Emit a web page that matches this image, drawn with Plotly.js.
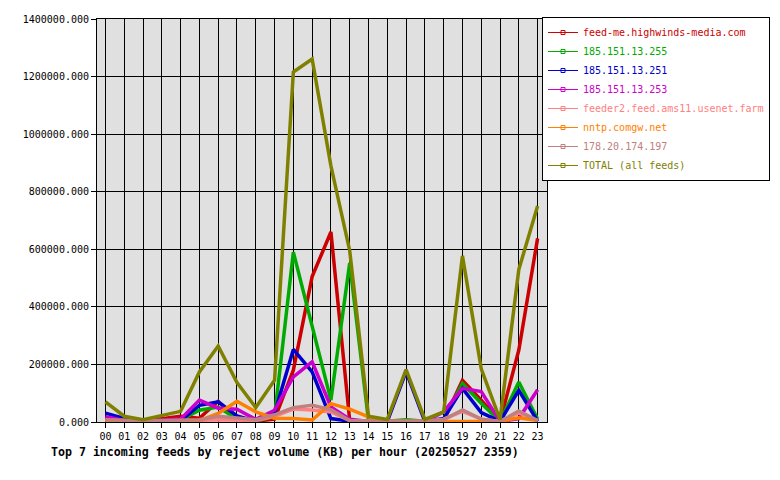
<!DOCTYPE html>
<html>
<head>
<meta charset="utf-8">
<script src="https://cdn.plot.ly/plotly-3.0.1.min.js"></script>
<style>html,body{margin:0;padding:0;background:#fff;}#chart{width:780px;height:480px;}</style>
</head>
<body>
<div id="chart"></div>
<script>
const hours = ['00','01','02','03','04','05','06','07','08','09','10','11','12','13','14','15','16','17','18','19','20','21','22','23'];

const feedNames = ['feed-me.highwinds-media.com','185.151.13.255','185.151.13.251','185.151.13.253','feeder2.feed.ams11.usenet.farm','nntp.comgw.net','178.20.174.197','TOTAL (all feeds)'];
const feedColors = ['#cc0000','#00aa00','#0000cc','#cc00cc','#ff8080','#ff8000','#c08080','#808000'];

const feedMe   = [15000, 5000, 3000, 12000, 20000, 13000, 72000, 12000, 3000, 10000, 180000, 505000, 660000, 5000, 2000, 2000, 2000, 2000, 5000, 145000, 76000, 2000, 250000, 638000];
const ip255    = [10000, 3000, 3000, 5000, 8000, 41000, 52000, 10000, 3000, 20000, 590000, 333000, 76000, 552000, 5000, 3000, 8000, 3000, 10000, 134000, 65000, 2000, 139000, 10000];
const ip251    = [31000, 12000, 3000, 3000, 5000, 58000, 70000, 21000, 3000, 30000, 252000, 174000, 12000, 3000, 2000, 2000, 175000, 2000, 12000, 117000, 33000, 2000, 110000, 3000];
const ip253    = [18000, 5000, 3000, 5000, 10000, 76000, 48000, 44000, 9000, 41000, 157000, 209000, 52000, 10000, 2000, 2000, 2000, 2000, 35000, 117000, 106000, 2000, 12000, 112000];
const feeder2  = [5000, 3000, 3000, 3000, 3000, 5000, 8000, 8000, 5000, 20000, 45000, 42000, 35000, 5000, 3000, 3000, 3000, 3000, 10000, 37000, 10000, 2000, 32000, 5000];
const comgw    = [2000, 2000, 2000, 2000, 3000, 5000, 30000, 72000, 35000, 13000, 12000, 7000, 64000, 45000, 18000, 3000, 2000, 2000, 2000, 3000, 3000, 2000, 15000, 5000];
const ip197    = [8000, 5000, 5000, 5000, 5000, 8000, 20000, 15000, 8000, 25000, 50000, 58000, 43000, 5000, 3000, 3000, 3000, 3000, 8000, 42000, 10000, 2000, 38000, 5000];
const total    = [70000, 20000, 8000, 23000, 37000, 174000, 264000, 137000, 50000, 145000, 1216000, 1261000, 890000, 595000, 20000, 9000, 182000, 9000, 35000, 577000, 185000, 8000, 530000, 750000];

const series = [feedMe, ip255, ip251, ip253, feeder2, comgw, ip197, total];
const yTicks = [0, 200000, 400000, 600000, 800000, 1000000, 1200000, 1400000];
const titleText = 'Top 7 incoming feeds by reject volume (KB) per hour (20250527 2359)';

const mono = 'DejaVu Sans Mono, monospace';
const traces = [];
series.forEach((vals, i) => {
  traces.push({
    x: hours, y: vals, type: 'scatter', mode: 'lines',
    line: {color: feedColors[i], width: 3.5},
    showlegend: false, hoverinfo: 'skip'
  });
});
// legend entries (thin line with small marker, like the original key)
feedNames.forEach((n, i) => {
  traces.push({
    x: [null], y: [null], type: 'scatter', mode: 'lines+markers',
    name: '<span style="color:' + feedColors[i] + '">' + n + '</span>',
    line: {color: feedColors[i], width: 1},
    marker: {color: feedColors[i], symbol: 'square-open', size: 4, line: {width: 1, color: feedColors[i]}},
    showlegend: true
  });
});

const layout = {
  width: 780, height: 480,
  margin: {l: 97, r: 232, t: 19, b: 58},
  paper_bgcolor: '#ffffff', plot_bgcolor: '#e0e0e0',
  font: {family: mono, size: 10, color: '#000'},
  showlegend: true,
  legend: {
    x: (770 - 97) / 451, xanchor: 'right', y: 1.005, yanchor: 'top',
    bordercolor: '#000', borderwidth: 1, bgcolor: '#fff',
    font: {family: mono, size: 10}, tracegroupgap: 0, itemclick: false
  },
  xaxis: {
    type: 'category', range: [-0.45, 23.5], fixedrange: true,
    showgrid: true, gridcolor: '#000', gridwidth: 1,
    showline: true, linecolor: '#000', linewidth: 1, mirror: true,
    ticks: 'outside', ticklen: 5, tickcolor: '#000', tickwidth: 1,
    tickfont: {family: mono, size: 10, color: '#000'}, zeroline: false
  },
  yaxis: {
    range: [0, 1400000], fixedrange: true,
    tickvals: yTicks, tickformat: '.3f',
    showgrid: true, gridcolor: '#000', gridwidth: 1,
    showline: true, linecolor: '#000', linewidth: 1, mirror: true,
    ticks: 'outside', ticklen: 5, tickcolor: '#000', tickwidth: 1,
    tickfont: {family: mono, size: 10, color: '#000'}, zeroline: false
  },
  annotations: [{
    text: '<b>' + titleText + '</b>', xref: 'paper', yref: 'paper',
    x: (49 - 97) / 451, xanchor: 'left', y: -(452 - 422) / 403, yanchor: 'middle',
    showarrow: false, font: {family: mono, size: 11.6, color: '#000'}
  }]
};

Plotly.newPlot('chart', traces, layout, {staticPlot: true, displayModeBar: false});
</script>
</body>
</html>
